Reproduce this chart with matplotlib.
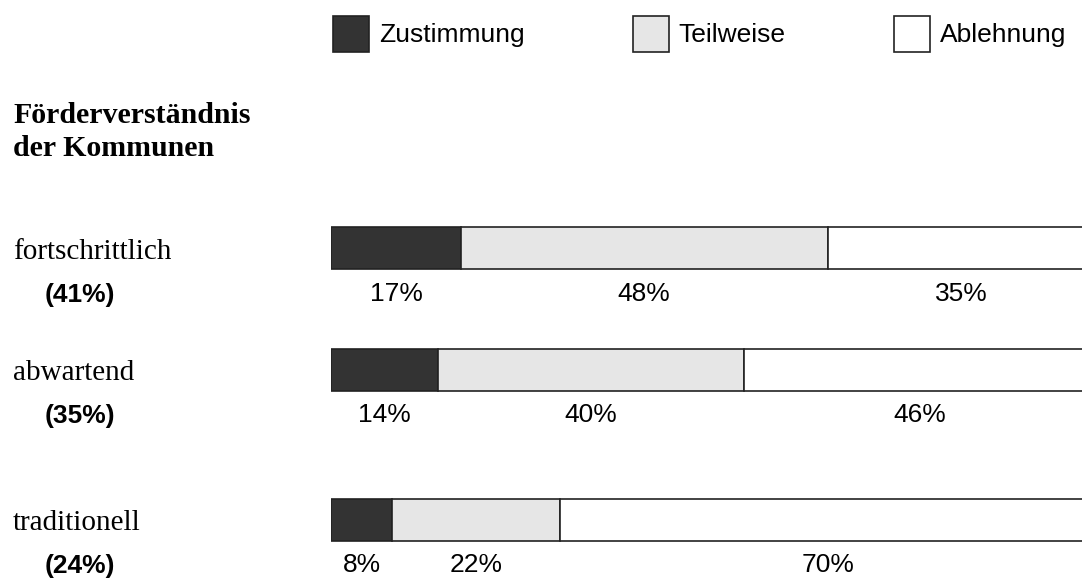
import matplotlib
matplotlib.use("Agg")
import matplotlib.pyplot as plt

groups = ["fortschrittlich", "abwartend", "traditionell"]
group_share = ["(41%)", "(35%)", "(24%)"]
zustimmung = [17, 14, 8]
teilweise = [48, 40, 22]
ablehnung = [35, 46, 70]
series_names = ["Zustimmung", "Teilweise", "Ablehnung"]
title = "Förderverständnis\nder Kommunen"

W, H = 1082, 581
fig = plt.figure(figsize=(W / 100, H / 100), dpi=100)

# bar area runs past the right border, like in the original
ax = fig.add_axes([331 / W, 0, 764 / W, 1])
ax.set_xlim(0, 100)
ax.set_ylim(H, 0)
ax.axis("off")

row_y = [248, 369.5, 519.5]   # row centres in pixels from the top
bar_h = 42
colors = ["#333333", "#e6e6e6", "#ffffff"]
sans = "Liberation Sans"
serif = "Liberation Serif"

left = [0, 0, 0]
handles = []
for name, vals, col in zip(series_names, [zustimmung, teilweise, ablehnung], colors):
    b = ax.barh(row_y, vals, left=left, height=bar_h, color=col,
                edgecolor="#222222", linewidth=1.2, label=name)
    handles.append(b)
    for y, l, v in zip(row_y, left, vals):
        ax.text(l + v / 2, y + 46, f"{v}%", ha="center", va="center",
                fontsize=19, family=sans)
    left = [l + v for l, v in zip(left, vals)]

# left side texts
fig.text(13 / W, 1 - 102 / H, title, fontsize=21.5, family=serif,
         weight="bold", va="top", linespacing=1.28)
for y, g, s in zip(row_y, groups, group_share):
    fig.text(13 / W, 1 - (y + 11) / H, g, fontsize=21, family=serif,
             va="baseline")
    fig.text(80 / W, 1 - (y + 47) / H, s, ha="center", va="center",
             fontsize=19, weight="bold", family=sans)

fig.legend(handles=handles, labels=series_names, loc="upper left",
           bbox_to_anchor=(333 / W, 1 - 16 / H), ncol=3, frameon=False,
           prop={"family": sans, "size": 19}, handlelength=1.36,
           handleheight=1.7, handletextpad=0.38, columnspacing=4.1,
           borderpad=0, borderaxespad=0)

fig.savefig("out.png", dpi=100)
